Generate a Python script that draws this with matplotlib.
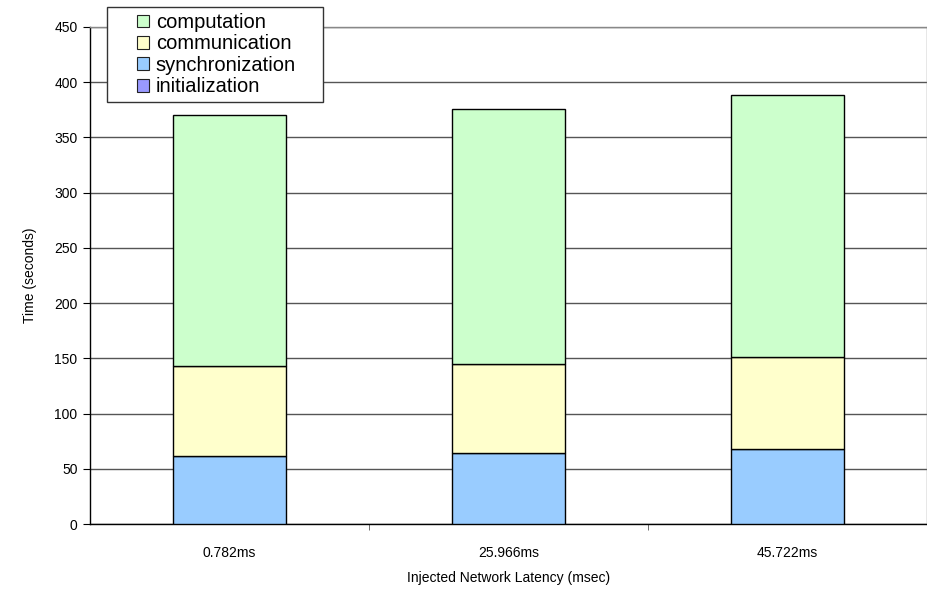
import matplotlib
matplotlib.use("Agg")
import matplotlib.pyplot as plt
import numpy as np
from matplotlib.patches import Patch, Rectangle

plt.rcParams['font.family'] = ['Liberation Sans', 'DejaVu Sans']

categories = ["0.782ms", "25.966ms", "45.722ms"]
initialization = [0.3, 0.3, 0.3]
synchronization = [61.0, 64.0, 67.7]
communication = [81.5, 80.9, 82.9]
computation = [227.3, 230.7, 237.1]

colors = {
    "initialization": "#9999FF",
    "synchronization": "#99CCFF",
    "communication": "#FFFFCC",
    "computation": "#CCFFCC",
}

W, H = 928, 590
fig = plt.figure(figsize=(W / 100, H / 100), dpi=100)
ax = fig.add_axes([90 / W, 1 - 524 / H, 837 / W, 497 / H])

x = np.arange(len(categories))
width = 0.405
bottom = np.zeros(len(categories))
for name, vals in [("initialization", initialization),
                   ("synchronization", synchronization),
                   ("communication", communication),
                   ("computation", computation)]:
    vals = np.array(vals)
    ax.bar(x, vals, width, bottom=bottom, color=colors[name],
           edgecolor="black", linewidth=1.0, zorder=3)
    bottom += vals

ax.set_xlim(-0.5, len(categories) - 0.5)
ax.set_ylim(0, 450)
ax.set_yticks(np.arange(0, 451, 50))
ax.yaxis.grid(True, color="#555555", linewidth=1.0, zorder=0)
ax.set_axisbelow(True)

ax.set_xticks(x)
ax.set_xticklabels(categories, fontsize=10)
ax.set_xticks(np.arange(0.5, len(categories) - 1, 1), minor=True)
ax.tick_params(axis="x", which="major", length=0, pad=16)
ax.tick_params(axis="x", which="minor", length=4, color="#555555", direction="out")
ax.tick_params(axis="y", length=5, direction="out", labelsize=10, pad=4)

for side in ["top", "right"]:
    ax.spines[side].set_color("#888888")
    ax.spines[side].set_linewidth(1.0)
for side in ["left", "bottom"]:
    ax.spines[side].set_color("black")
    ax.spines[side].set_linewidth(1.0)

ax.set_xlabel("Injected Network Latency (msec)", fontsize=10, labelpad=8)
ax.set_ylabel("Time (seconds)", fontsize=10, labelpad=12)

# legend frame drawn separately so the box can be wider than its entries
fig.add_artist(Rectangle((107 / W, 1 - 102 / H), 216 / W, 95 / H,
                         transform=fig.transFigure, facecolor="white",
                         edgecolor="#333333", linewidth=1.0, zorder=9))

handles = [Patch(facecolor=colors[n], edgecolor="#222222", linewidth=0.8, label=n)
           for n in ["computation", "communication", "synchronization", "initialization"]]
leg = fig.legend(handles=handles, loc="upper left",
                 bbox_to_anchor=(137 / W, 1 - 13 / H),
                 fontsize=14.5, frameon=False,
                 handlelength=0.6, handleheight=0.6, handletextpad=0.33,
                 labelspacing=0.12, borderpad=0, borderaxespad=0)
leg.set_zorder(10)

fig.savefig("out.png", dpi=100)
